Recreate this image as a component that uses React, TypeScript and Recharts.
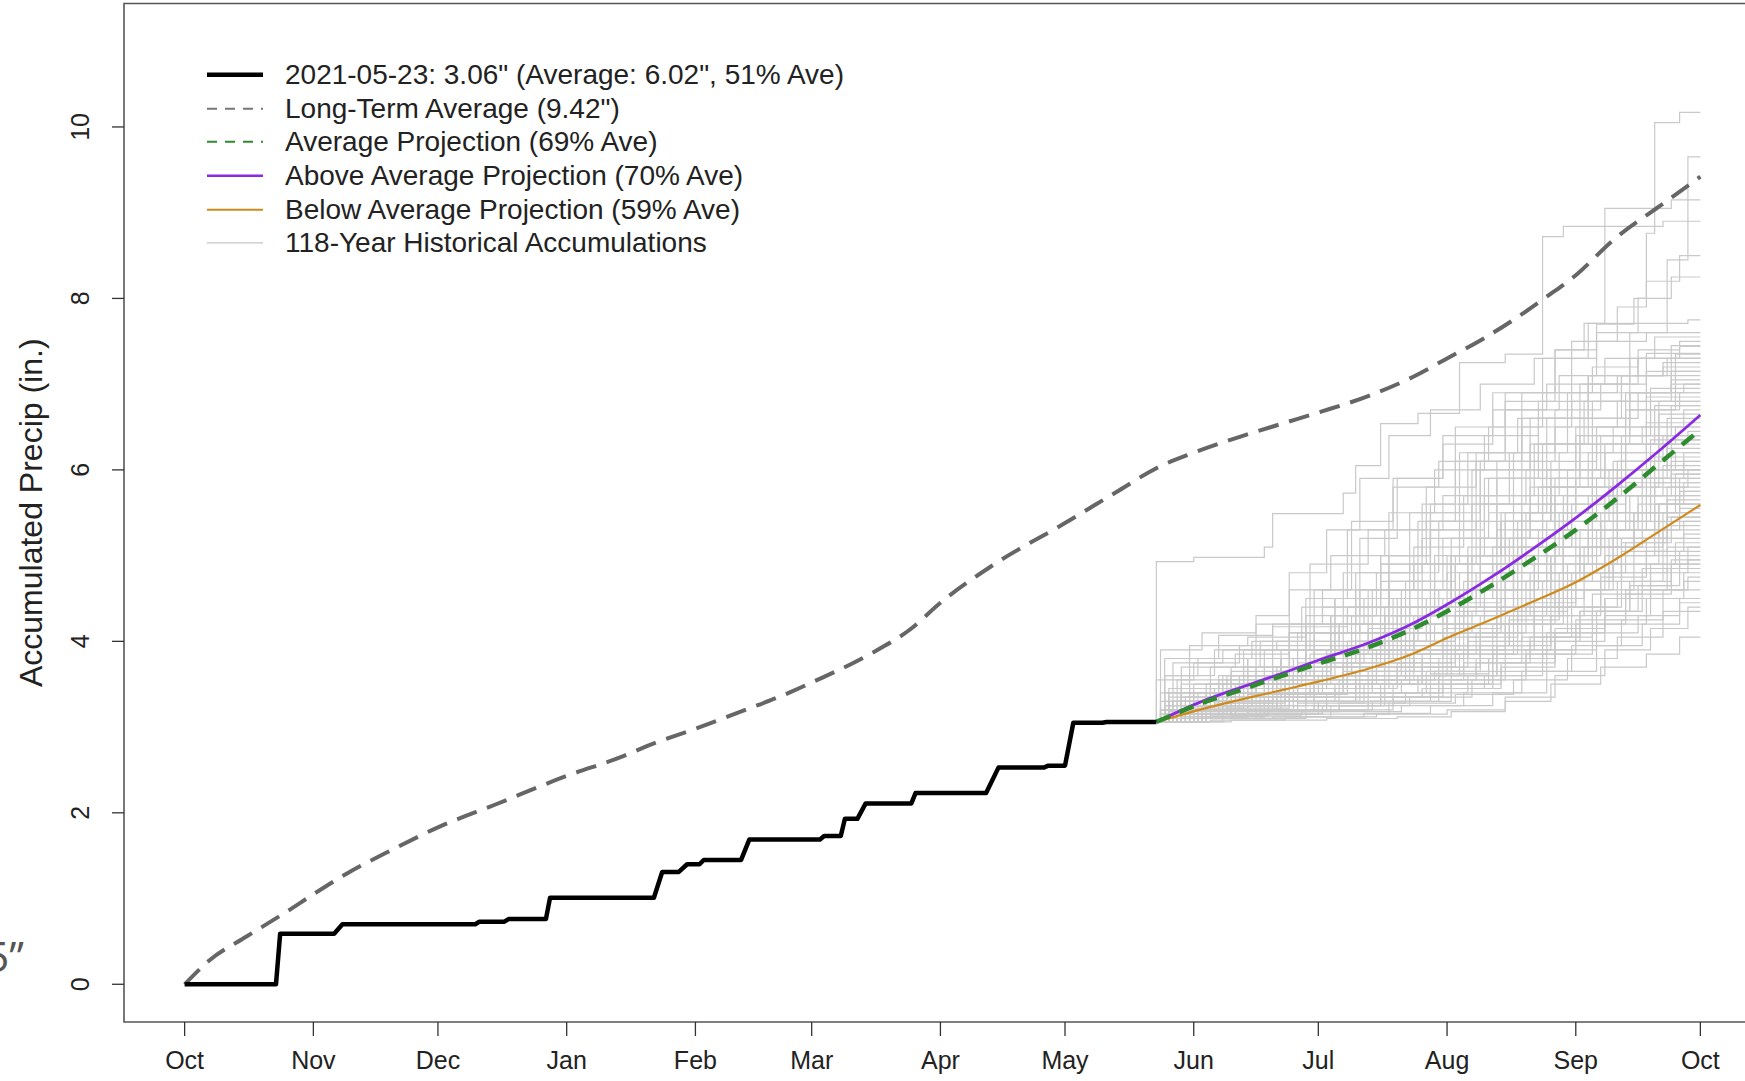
import React from 'react';
import { LineChart, Line, XAxis, YAxis, ReferenceArea, Legend } from 'recharts';

const FONT = '"Liberation Sans", Arial, Helvetica, sans-serif';

// x = day of water year (0 = Oct 1)
const monthTicks = [0, 31, 61, 92, 123, 151, 182, 212, 243, 273, 304, 335, 365];
const monthLabels = ['Oct', 'Nov', 'Dec', 'Jan', 'Feb', 'Mar', 'Apr', 'May', 'Jun', 'Jul', 'Aug', 'Sep', 'Oct'];
const yTicks = [0, 2, 4, 6, 8, 10];

// current water year accumulation (day, inches)
const currentYear: number[][] = [
  [0, 0], [22, 0], [23, 0.59], [36, 0.59], [38, 0.7], [70, 0.7], [71, 0.73], [77, 0.73], [78, 0.76],
  [87, 0.76], [88, 1.01], [113, 1.01], [115, 1.31], [119, 1.31], [121, 1.4], [124, 1.4], [125, 1.45],
  [134, 1.45], [136, 1.69], [153, 1.69], [154, 1.73], [158, 1.73], [159, 1.93], [162, 1.93], [164, 2.11],
  [175, 2.11], [176, 2.23], [193, 2.23], [196, 2.53], [207, 2.53], [208, 2.55], [212, 2.55], [214, 3.05],
  [221, 3.05], [222, 3.06], [234, 3.06],
];

// long-term average accumulation
const longTermAvg: number[][] = [
  [0, 0], [6, 0.28], [15, 0.56], [25, 0.86], [31, 1.05], [39, 1.29], [50, 1.57], [61, 1.83], [75, 2.1],
  [92, 2.43], [105, 2.65], [113, 2.81], [123, 2.98], [135, 3.2], [146, 3.41], [151, 3.52], [165, 3.85],
  [175, 4.15], [182, 4.45], [195, 4.9], [212, 5.38], [225, 5.76], [234, 6.02], [243, 6.2], [255, 6.4],
  [265, 6.55], [273, 6.67], [285, 6.86], [296, 7.09], [304, 7.3], [312, 7.51], [320, 7.75], [328, 8.02],
  [335, 8.27], [344, 8.68], [355, 9.07], [365, 9.42],
];

const projDays = [234, 245, 256, 265, 273, 285, 295, 304, 315, 325, 335, 345, 355, 365];
const aboveProj = [3.06, 3.3, 3.49, 3.64, 3.78, 3.98, 4.19, 4.43, 4.76, 5.09, 5.44, 5.82, 6.22, 6.64];
const avgProj = [3.06, 3.28, 3.46, 3.61, 3.74, 3.93, 4.13, 4.35, 4.66, 4.97, 5.3, 5.67, 6.07, 6.47];
const belowProj = [3.06, 3.21, 3.34, 3.44, 3.53, 3.68, 3.84, 4.04, 4.26, 4.47, 4.69, 4.97, 5.28, 5.59];

// historical accumulations after 2021-05-23: jump points (day, inches), each starting at 3.06 on day 234
const historical: number[][][] = [
  [[234, 4.93], [243, 4.98], [260, 5.1], [262, 5.49], [279, 5.73], [282, 6.05], [288, 6.54], [297, 6.66], [307, 7.25], [318, 7.35], [327, 8.72], [332, 8.84], [356, 8.9]],
  [[238, 3.2], [247, 3.4], [256, 3.5], [268, 3.9], [279, 4.4], [290, 5.0], [300, 5.6], [306, 6.5], [318, 6.9], [330, 7.4], [340, 7.7], [349, 8.0], [352, 8.76], [354, 10.05], [360, 10.17]],
  [[236, 3.15], [250, 3.3], [265, 3.6], [280, 4.0], [293, 4.6], [305, 5.2], [316, 5.9], [328, 6.6], [338, 7.1], [348, 7.6], [357, 8.45], [362, 9.65]],
  [[240, 3.3], [255, 3.7], [268, 4.1], [282, 4.8], [295, 5.5], [307, 6.2], [318, 6.8], [330, 7.4], [337, 7.71], [342, 9.05], [358, 9.15]],
  [[235, 3.4], [252, 3.6], [270, 4.0], [286, 4.6], [300, 5.3], [311, 6.1], [322, 6.9], [334, 7.5], [345, 7.9], [352, 8.2], [360, 8.5]],
  [[244, 3.2], [258, 3.5], [272, 3.9], [285, 4.6], [297, 5.4], [306, 6.1], [318, 6.7], [331, 7.1], [340, 7.6], [350, 8.0], [358, 8.25]],
  [[238, 3.3], [255, 3.6], [270, 4.3], [283, 5.2], [292, 5.9], [303, 6.4], [315, 6.9], [327, 7.3], [338, 7.71], [362, 7.75]],
  [[241, 3.25], [256, 3.8], [270, 4.5], [280, 5.3], [291, 5.9], [303, 6.3], [315, 6.7], [328, 7.0], [342, 7.3], [354, 7.55]],
  [[236, 3.6], [248, 3.9], [262, 4.2], [274, 4.6], [288, 5.0], [300, 5.5], [312, 6.1], [326, 6.6], [338, 7.0], [350, 7.3], [360, 7.44]],
  [[239, 3.2], [253, 3.4], [267, 3.8], [281, 4.3], [295, 4.9], [307, 5.6], [319, 6.2], [330, 6.7], [341, 7.0], [352, 7.36]],
  [[243, 3.4], [260, 3.9], [271, 4.9], [285, 5.3], [299, 5.8], [311, 6.2], [322, 6.5], [334, 6.8], [346, 7.1], [356, 7.25]],
  [[236, 3.2], [247, 3.5], [266, 3.9], [278, 4.2], [291, 4.5], [305, 5.0], [316, 5.6], [327, 6.3], [339, 6.8], [352, 7.15]],
  [[237, 3.1], [252, 3.3], [262, 3.6], [276, 4.1], [288, 4.7], [300, 5.3], [313, 5.9], [324, 6.3], [336, 6.6], [348, 6.9], [358, 7.05]],
  [[240, 3.5], [251, 3.6], [264, 3.8], [282, 4.0], [294, 4.4], [306, 4.9], [318, 5.5], [329, 6.1], [340, 6.5], [353, 6.95]],
  [[235, 3.1], [245, 3.25], [260, 3.5], [275, 3.9], [289, 4.3], [301, 4.9], [312, 5.6], [323, 6.0], [335, 6.4], [347, 6.7], [360, 6.9]],
  [[242, 3.3], [257, 3.5], [269, 3.7], [283, 4.2], [297, 4.6], [309, 5.1], [320, 5.7], [331, 6.2], [344, 6.5], [355, 6.8]],
  [[236, 3.8], [249, 4.07], [262, 4.17], [280, 4.4], [294, 4.7], [306, 5.0], [318, 5.4], [330, 5.9], [342, 6.3], [354, 6.75]],
  [[238, 3.2], [254, 3.35], [268, 3.5], [280, 3.8], [292, 4.3], [304, 4.8], [316, 5.3], [327, 5.8], [339, 6.3], [351, 6.5], [361, 6.7]],
  [[245, 3.15], [260, 3.3], [272, 3.6], [286, 4.0], [299, 4.5], [310, 5.0], [322, 5.6], [333, 6.0], [346, 6.4], [357, 6.6]],
  [[237, 3.4], [250, 3.6], [264, 3.8], [277, 4.1], [290, 4.6], [303, 5.2], [314, 5.5], [326, 5.8], [338, 6.2], [352, 6.55]],
  [[240, 3.1], [258, 3.2], [272, 3.5], [287, 3.9], [300, 4.4], [312, 4.9], [323, 5.5], [335, 5.9], [347, 6.3], [359, 6.5]],
  [[235, 3.2], [248, 3.45], [263, 3.7], [276, 3.95], [289, 4.3], [302, 4.6], [315, 5.1], [327, 5.6], [339, 6.0], [352, 6.3], [362, 6.45]],
  [[243, 3.3], [256, 3.6], [270, 3.75], [284, 4.0], [297, 4.3], [309, 4.8], [321, 5.4], [333, 5.8], [345, 6.1], [356, 6.4]],
  [[236, 3.1], [246, 3.2], [259, 3.4], [274, 3.6], [290, 3.9], [304, 4.4], [316, 4.9], [328, 5.4], [340, 5.9], [353, 6.35]],
  [[239, 3.55], [252, 3.7], [266, 3.9], [281, 4.1], [295, 4.4], [307, 4.8], [319, 5.2], [330, 5.7], [343, 6.0], [355, 6.3]],
  [[241, 3.2], [255, 3.3], [268, 3.45], [283, 3.7], [296, 4.1], [308, 4.6], [320, 5.0], [331, 5.5], [344, 5.9], [357, 6.25]],
  [[237, 3.3], [249, 3.4], [262, 3.55], [277, 3.8], [291, 4.2], [303, 4.5], [315, 4.9], [326, 5.3], [339, 5.8], [351, 6.0], [361, 6.2]],
  [[235, 3.15], [250, 3.25], [265, 3.4], [279, 3.65], [293, 3.95], [306, 4.3], [318, 4.8], [330, 5.3], [342, 5.7], [354, 6.15]],
  [[244, 3.4], [258, 3.6], [271, 3.85], [285, 4.15], [298, 4.5], [311, 4.8], [322, 5.1], [334, 5.5], [347, 5.85], [358, 6.1]],
  [[238, 3.1], [253, 3.2], [267, 3.35], [282, 3.55], [296, 3.8], [309, 4.2], [321, 4.7], [332, 5.2], [345, 5.7], [356, 6.05]],
  [[236, 3.25], [250, 3.5], [263, 3.65], [276, 3.8], [290, 4.0], [303, 4.3], [316, 4.7], [328, 5.1], [341, 5.5], [353, 5.8], [362, 6.0]],
  [[242, 3.15], [256, 3.25], [270, 3.4], [286, 3.6], [300, 3.9], [312, 4.3], [324, 4.8], [336, 5.3], [348, 5.7], [359, 5.95]],
  [[240, 3.35], [254, 3.5], [268, 3.6], [281, 3.75], [294, 4.0], [306, 4.4], [318, 4.7], [329, 5.0], [341, 5.4], [353, 5.9]],
  [[235, 3.1], [247, 3.18], [261, 3.3], [277, 3.5], [292, 3.75], [305, 4.1], [317, 4.5], [329, 5.0], [341, 5.4], [354, 5.85]],
  [[239, 3.2], [251, 3.35], [264, 3.55], [279, 3.7], [293, 3.9], [307, 4.2], [320, 4.6], [332, 5.1], [344, 5.5], [357, 5.8]],
  [[237, 3.45], [249, 3.55], [262, 3.7], [275, 3.85], [288, 4.0], [301, 4.2], [313, 4.5], [325, 4.9], [338, 5.3], [350, 5.6], [361, 5.75]],
  [[246, 3.12], [260, 3.2], [273, 3.3], [288, 3.5], [302, 3.8], [315, 4.2], [327, 4.7], [339, 5.1], [351, 5.5], [360, 5.7]],
  [[238, 3.2], [252, 3.3], [266, 3.45], [280, 3.6], [294, 3.85], [308, 4.1], [321, 4.5], [333, 4.9], [345, 5.3], [357, 5.65]],
  [[236, 3.3], [248, 3.45], [260, 3.55], [274, 3.7], [289, 3.9], [303, 4.15], [317, 4.4], [330, 4.8], [343, 5.2], [355, 5.6]],
  [[241, 3.1], [255, 3.15], [270, 3.25], [285, 3.4], [299, 3.65], [312, 4.0], [325, 4.5], [337, 4.9], [349, 5.3], [360, 5.55]],
  [[237, 3.15], [250, 3.25], [263, 3.4], [278, 3.55], [292, 3.7], [306, 3.95], [319, 4.3], [332, 4.7], [344, 5.1], [356, 5.5]],
  [[243, 3.25], [257, 3.35], [271, 3.5], [285, 3.65], [298, 3.85], [311, 4.1], [323, 4.45], [335, 4.8], [347, 5.15], [358, 5.45]],
  [[236, 3.1], [246, 3.15], [259, 3.2], [275, 3.3], [291, 3.5], [305, 3.8], [318, 4.2], [330, 4.6], [342, 5.0], [354, 5.4]],
  [[240, 3.4], [253, 3.5], [267, 3.6], [281, 3.7], [295, 3.85], [309, 4.05], [321, 4.35], [333, 4.7], [346, 5.05], [357, 5.35]],
  [[235, 3.2], [248, 3.28], [262, 3.35], [277, 3.45], [292, 3.6], [307, 3.85], [320, 4.2], [332, 4.6], [344, 5.0], [356, 5.3]],
  [[245, 3.1], [259, 3.15], [274, 3.25], [289, 3.4], [303, 3.6], [316, 3.9], [329, 4.3], [341, 4.75], [352, 5.05], [361, 5.25]],
  [[238, 3.3], [251, 3.4], [265, 3.5], [279, 3.6], [293, 3.75], [306, 3.95], [319, 4.25], [331, 4.6], [343, 4.9], [355, 5.2]],
  [[242, 3.2], [256, 3.25], [270, 3.35], [284, 3.5], [298, 3.7], [312, 3.95], [325, 4.3], [337, 4.6], [349, 4.9], [359, 5.15]],
  [[236, 3.15], [249, 3.2], [263, 3.3], [278, 3.4], [293, 3.55], [308, 3.75], [322, 4.05], [334, 4.4], [346, 4.8], [357, 5.1]],
  [[240, 3.1], [254, 3.15], [269, 3.2], [285, 3.3], [300, 3.5], [314, 3.8], [327, 4.2], [339, 4.55], [351, 4.85], [360, 5.05]],
  [[237, 3.25], [250, 3.35], [264, 3.45], [279, 3.55], [294, 3.65], [308, 3.85], [321, 4.1], [333, 4.4], [345, 4.7], [356, 5.0]],
  [[244, 3.12], [260, 3.18], [276, 3.25], [291, 3.35], [305, 3.55], [318, 3.8], [330, 4.15], [342, 4.5], [353, 4.8], [362, 4.95]],
  [[239, 3.2], [253, 3.3], [267, 3.4], [282, 3.5], [297, 3.6], [311, 3.8], [324, 4.05], [336, 4.35], [348, 4.65], [358, 4.9]],
  [[235, 3.1], [247, 3.13], [261, 3.18], [278, 3.25], [295, 3.35], [310, 3.55], [323, 3.85], [335, 4.2], [347, 4.55], [358, 4.85]],
  [[241, 3.3], [256, 3.38], [271, 3.45], [286, 3.55], [301, 3.65], [315, 3.85], [328, 4.1], [340, 4.35], [351, 4.6], [361, 4.8]],
  [[238, 3.15], [252, 3.2], [268, 3.28], [284, 3.35], [300, 3.45], [315, 3.65], [328, 3.9], [340, 4.2], [352, 4.5], [361, 4.7]],
  [[243, 3.1], [259, 3.12], [276, 3.18], [293, 3.25], [308, 3.4], [322, 3.65], [334, 3.95], [346, 4.25], [356, 4.6]],
  [[236, 3.2], [251, 3.25], [266, 3.3], [282, 3.35], [298, 3.45], [313, 3.6], [327, 3.85], [339, 4.1], [350, 4.3], [360, 4.5]],
  [[247, 3.08], [265, 3.12], [284, 3.16], [300, 3.25], [315, 3.4], [328, 3.65], [340, 3.95], [351, 4.2], [360, 4.45]],
  [[240, 3.12], [256, 3.15], [274, 3.2], [291, 3.28], [306, 3.38], [320, 3.55], [333, 3.8], [345, 4.05], [356, 4.35]],
  [[252, 3.08], [275, 3.1], [292, 3.12], [305, 3.18], [318, 3.3], [329, 3.5], [341, 3.7], [352, 3.85], [360, 4.05]],
  [[238, 3.1], [262, 3.12], [287, 3.15], [304, 3.2], [318, 3.35], [330, 3.6], [342, 3.9], [353, 4.15], [362, 4.4]],
  [[235, 3.9], [245, 4.1], [258, 4.2], [274, 4.4], [290, 4.7], [304, 5.0], [317, 5.4], [329, 5.8], [342, 6.2], [355, 6.65]],
  [[236, 3.6], [244, 3.8], [257, 4.0], [266, 4.6], [276, 5.0], [289, 5.3], [303, 5.7], [316, 6.1], [330, 6.5], [345, 6.8], [358, 7.0]],
  [[240, 3.7], [253, 3.85], [266, 3.95], [282, 4.1], [297, 4.3], [311, 4.6], [325, 5.0], [338, 5.4], [350, 5.7], [360, 5.9]],
  [[245, 3.2], [262, 3.4], [272, 4.2], [282, 4.6], [296, 4.9], [310, 5.2], [324, 5.5], [338, 5.7], [352, 6.0]],
  [[239, 3.15], [251, 3.25], [263, 3.35], [277, 3.45], [290, 3.6], [304, 3.9], [318, 4.3], [331, 4.8], [344, 5.2], [355, 5.6]],
  [[237, 3.25], [252, 3.4], [265, 3.55], [279, 3.75], [293, 4.0], [306, 4.35], [320, 4.8], [332, 5.3], [345, 5.9], [358, 6.35]],
  [[242, 3.45], [254, 3.6], [268, 3.75], [282, 3.95], [296, 4.1], [310, 4.35], [323, 4.7], [336, 5.1], [349, 5.5], [360, 5.75]],
  [[246, 3.3], [261, 3.6], [276, 4.3], [288, 4.9], [299, 5.4], [310, 6.0], [322, 6.6], [334, 6.9], [346, 7.1], [357, 7.3]],
  [[236, 3.1], [249, 3.2], [264, 3.4], [279, 3.9], [293, 4.5], [305, 5.0], [317, 5.5], [328, 6.0], [340, 6.4], [352, 6.85]],
  [[250, 3.1], [270, 3.15], [290, 3.3], [305, 3.5], [315, 3.9], [325, 4.4], [335, 4.8], [346, 5.2], [357, 5.5]],
  [[238, 3.3], [249, 3.6], [258, 4.3], [266, 4.8], [275, 5.3], [283, 5.9], [290, 6.4], [300, 6.7], [312, 7.0], [325, 7.3], [340, 7.5], [352, 7.6]],
  [[240, 3.2], [252, 3.5], [262, 3.9], [272, 4.6], [281, 5.4], [291, 5.8], [302, 6.1], [314, 6.5], [327, 6.9], [339, 7.2], [350, 7.4], [360, 7.5]],
  [[236, 3.4], [247, 3.7], [259, 4.0], [269, 4.4], [279, 4.8], [290, 5.5], [301, 6.0], [313, 6.4], [326, 6.8], [338, 7.1], [350, 7.3]],
  [[243, 3.5], [255, 3.9], [266, 4.2], [277, 4.5], [288, 5.0], [298, 5.6], [309, 6.2], [321, 6.6], [333, 6.9], [345, 7.1], [356, 7.2]],
  [[235, 3.2], [246, 3.4], [258, 3.7], [270, 4.1], [283, 4.6], [296, 5.1], [308, 5.7], [320, 6.2], [333, 6.6], [346, 6.9], [358, 7.1]],
  [[239, 3.3], [251, 3.55], [264, 3.8], [277, 4.2], [290, 4.8], [302, 5.4], [314, 5.9], [326, 6.3], [338, 6.6], [350, 6.9], [361, 7.0]],
  [[237, 3.1], [250, 3.2], [263, 3.5], [276, 3.9], [289, 4.4], [301, 5.0], [313, 5.7], [325, 6.3], [337, 6.8], [348, 7.1], [358, 7.3]],
  [[241, 3.35], [254, 3.5], [267, 3.7], [280, 4.0], [293, 4.4], [305, 4.9], [317, 5.4], [329, 5.9], [341, 6.4], [353, 6.8]],
  [[236, 3.2], [249, 3.3], [262, 3.5], [275, 3.7], [288, 4.1], [300, 4.6], [312, 5.2], [324, 5.8], [336, 6.3], [348, 6.7], [359, 6.9]],
  [[244, 3.25], [257, 3.4], [270, 3.6], [283, 3.9], [296, 4.3], [308, 4.7], [320, 5.2], [332, 5.7], [344, 6.1], [355, 6.5]],
  [[238, 3.15], [252, 3.3], [266, 3.5], [280, 3.8], [294, 4.2], [307, 4.6], [320, 5.0], [332, 5.5], [345, 6.0], [357, 6.4]],
  [[240, 3.3], [253, 3.45], [267, 3.6], [281, 3.9], [295, 4.2], [308, 4.6], [321, 5.1], [334, 5.6], [347, 6.0], [359, 6.2]],
  [[235, 3.15], [247, 3.25], [260, 3.4], [273, 3.6], [287, 3.85], [300, 4.2], [313, 4.6], [326, 5.0], [339, 5.5], [351, 5.9], [361, 6.1]],
  [[242, 3.2], [255, 3.3], [268, 3.45], [282, 3.65], [296, 3.95], [309, 4.35], [322, 4.8], [335, 5.3], [347, 5.7], [358, 5.95]],
  [[237, 3.35], [249, 3.5], [262, 3.65], [276, 3.85], [290, 4.1], [304, 4.45], [317, 4.9], [330, 5.4], [343, 5.8], [355, 6.0]],
  [[246, 3.15], [261, 3.25], [275, 3.4], [289, 3.6], [303, 3.9], [316, 4.3], [328, 4.8], [340, 5.3], [352, 5.7], [361, 5.85]],
  [[239, 3.1], [253, 3.18], [268, 3.3], [283, 3.5], [298, 3.8], [312, 4.2], [325, 4.7], [337, 5.1], [349, 5.5], [359, 5.7]],
  [[236, 3.25], [248, 3.35], [261, 3.45], [275, 3.6], [289, 3.8], [303, 4.05], [316, 4.4], [329, 4.9], [342, 5.3], [354, 5.6]],
  [[243, 3.1], [258, 3.15], [273, 3.25], [288, 3.4], [302, 3.6], [316, 3.95], [329, 4.4], [341, 4.8], [352, 5.2], [361, 5.4]],
  [[238, 3.2], [251, 3.28], [265, 3.38], [280, 3.5], [295, 3.7], [309, 4.0], [322, 4.4], [334, 4.8], [346, 5.15], [357, 5.45]],
  [[240, 3.12], [256, 3.18], [272, 3.25], [288, 3.35], [303, 3.5], [317, 3.75], [330, 4.1], [342, 4.5], [353, 4.9], [362, 5.1]],
  [[237, 3.18], [251, 3.22], [266, 3.3], [282, 3.4], [297, 3.55], [311, 3.75], [324, 4.0], [336, 4.35], [348, 4.7], [358, 4.95]],
  [[245, 3.15], [261, 3.2], [278, 3.28], [294, 3.4], [309, 3.6], [323, 3.9], [335, 4.25], [347, 4.6], [357, 4.85]],
  [[236, 3.1], [252, 3.14], [269, 3.2], [286, 3.3], [302, 3.45], [317, 3.7], [330, 4.0], [342, 4.3], [353, 4.6], [362, 4.75]],
  [[241, 3.22], [255, 3.3], [270, 3.4], [285, 3.5], [300, 3.62], [314, 3.8], [327, 4.05], [339, 4.35], [350, 4.65], [360, 4.9]],
  [[234, 3.55], [243, 3.75], [254, 3.95], [266, 4.1], [280, 4.3], [295, 4.6], [309, 5.0], [322, 5.5], [335, 6.0], [347, 6.4], [358, 6.75]],
  [[238, 3.75], [250, 3.9], [263, 4.0], [278, 4.2], [292, 4.5], [306, 4.9], [320, 5.3], [333, 5.7], [346, 6.1], [357, 6.4]],
  [[242, 3.95], [256, 4.05], [270, 4.2], [284, 4.5], [298, 4.9], [311, 5.4], [324, 5.9], [336, 6.4], [348, 6.9], [359, 7.35]],
  [[235, 3.3], [246, 3.5], [256, 3.8], [266, 4.1], [277, 4.5], [288, 4.9], [300, 5.4], [312, 6.0], [324, 6.6], [336, 7.0], [348, 7.3], [358, 7.45]],
  [[240, 3.45], [252, 3.65], [264, 3.9], [276, 4.3], [287, 4.8], [298, 5.2], [310, 5.6], [322, 6.0], [335, 6.5], [347, 6.9], [358, 7.15]],
];

const legendItems = [
  { label: '2021-05-23: 3.06" (Average: 6.02", 51% Ave)', color: '#000000', width: 4.5, dash: undefined as string | undefined },
  { label: 'Long-Term Average (9.42")', color: '#777777', width: 2, dash: '10 8' },
  { label: 'Average Projection (69% Ave)', color: '#2e8b2e', width: 2, dash: '10 8' },
  { label: 'Above Average Projection (70% Ave)', color: '#8a2be2', width: 2.5, dash: undefined },
  { label: 'Below Average Projection (59% Ave)', color: '#d08a1c', width: 2, dash: undefined },
  { label: '118-Year Historical Accumulations', color: '#c6c6c6', width: 1.3, dash: undefined },
];

const pts = (pairs: number[][]) => pairs.map(([d, v]) => ({ d, v }));
const projPts = (vals: number[]) => projDays.map((d, i) => ({ d, v: vals[i] }));
const startDay = currentYear[currentYear.length - 1][0];
const startVal = currentYear[currentYear.length - 1][1];
const histPts = (pairs: number[][]) => {
  const last = pairs[pairs.length - 1][1];
  return [{ d: startDay, v: startVal }, ...pts(pairs), { d: 365, v: last }];
};

const XTick = (p: any) => {
  const v = p.payload.value;
  const label = monthLabels[monthTicks.indexOf(v)];
  return (
    <text x={p.x} y={p.y + 24} textAnchor="middle" dominantBaseline="central" fontSize={25} fill="#222" fontFamily={FONT}>
      {label}
    </text>
  );
};

const YTick = (p: any) => {
  const cx = p.x - 31.5;
  const cy = p.y;
  return (
    <text x={cx} y={cy} transform={`rotate(-90 ${cx} ${cy})`} textAnchor="middle" dominantBaseline="central" fontSize={25} fill="#222" fontFamily={FONT}>
      {p.payload.value}
    </text>
  );
};

const YLabel = (p: any) => {
  const vb = p.viewBox || { x: 0, y: 3.5, width: 124, height: 1018.5 };
  const cx = vb.x + 31;
  const cy = vb.y + vb.height / 2;
  return (
    <text x={cx} y={cy} transform={`rotate(-90 ${cx} ${cy})`} textAnchor="middle" dominantBaseline="central" fontSize={32} fill="#222" fontFamily={FONT}>
      Accumulated Precip (in.)
    </text>
  );
};

const LegendBox = () => (
  <div style={{ fontFamily: FONT, fontSize: 28, color: '#222' }}>
    {legendItems.map((it) => (
      <div key={it.label} style={{ height: 33.6, display: 'flex', alignItems: 'center' }}>
        <svg width={85} height={33.6} style={{ flex: 'none' }}>
          <line x1={7} x2={63} y1={16.8} y2={16.8} stroke={it.color} strokeWidth={it.width} strokeDasharray={it.dash} />
        </svg>
        <span style={{ whiteSpace: 'nowrap', lineHeight: '33.6px' }}>{it.label}</span>
      </div>
    ))}
  </div>
);

export default function App() {
  return (
    <div style={{ position: 'absolute', left: 0, top: 0, width: 1745, height: 1081, overflow: 'hidden', background: '#fff' }}>
      <LineChart width={1800} height={1081} margin={{ top: 3.5, right: 39, left: 0, bottom: 0 }}>
        <XAxis
          type="number"
          dataKey="d"
          domain={[-14.6, 379.6]}
          allowDataOverflow
          ticks={monthTicks}
          interval={0}
          height={59}
          axisLine={false}
          tickLine={{ stroke: '#333', strokeWidth: 1.3 }}
          tickSize={14}
          tickMargin={0}
          tick={XTick}
        />
        <YAxis
          type="number"
          dataKey="v"
          domain={[-0.44, 11.44]}
          allowDataOverflow
          ticks={yTicks}
          interval={0}
          width={124}
          axisLine={false}
          tickLine={{ stroke: '#333', strokeWidth: 1.3 }}
          tickSize={12}
          tickMargin={0}
          tick={YTick}
          label={YLabel}
        />
        <ReferenceArea x1={-14.6} x2={379.6} y1={-0.44} y2={11.44} fill="#fff" fillOpacity={0} stroke="#555" strokeWidth={1.6} ifOverflow="visible" />
        {historical.map((tr, i) => (
          <Line
            key={'h' + i}
            data={histPts(tr)}
            dataKey="v"
            type="stepAfter"
            stroke="#c9c9c9"
            strokeWidth={1.2}
            dot={false}
            activeDot={false}
            isAnimationActive={false}
            legendType="none"
          />
        ))}
        <Line data={pts(longTermAvg)} dataKey="v" type="monotone" stroke="#666666" strokeWidth={4} strokeDasharray="21 11" dot={false} activeDot={false} isAnimationActive={false} />
        <Line data={projPts(belowProj)} dataKey="v" type="monotone" stroke="#d08a1c" strokeWidth={2.2} dot={false} activeDot={false} isAnimationActive={false} />
        <Line data={projPts(aboveProj)} dataKey="v" type="monotone" stroke="#8a2be2" strokeWidth={2.8} dot={false} activeDot={false} isAnimationActive={false} />
        <Line data={projPts(avgProj)} dataKey="v" type="monotone" stroke="#2e8b2e" strokeWidth={4.5} strokeDasharray="15 10" dot={false} activeDot={false} isAnimationActive={false} />
        <Line data={pts(currentYear)} dataKey="v" type="linear" stroke="#000" strokeWidth={4.5} strokeLinejoin="round" dot={false} activeDot={false} isAnimationActive={false} />
        <Legend
          layout="vertical"
          align="center"
          verticalAlign="middle"
          wrapperStyle={{ left: 200, top: 58.2, width: 720, height: 210 }}
          content={LegendBox}
        />
      </LineChart>
      <svg style={{ position: 'absolute', left: 0, top: 0 }} width={60} height={1081}>
        <text x={24} y={972} textAnchor="end" fontSize={42} fill="#555" fontFamily='"Open Sans", "Liberation Sans", sans-serif'>
          5”
        </text>
      </svg>
    </div>
  );
}
